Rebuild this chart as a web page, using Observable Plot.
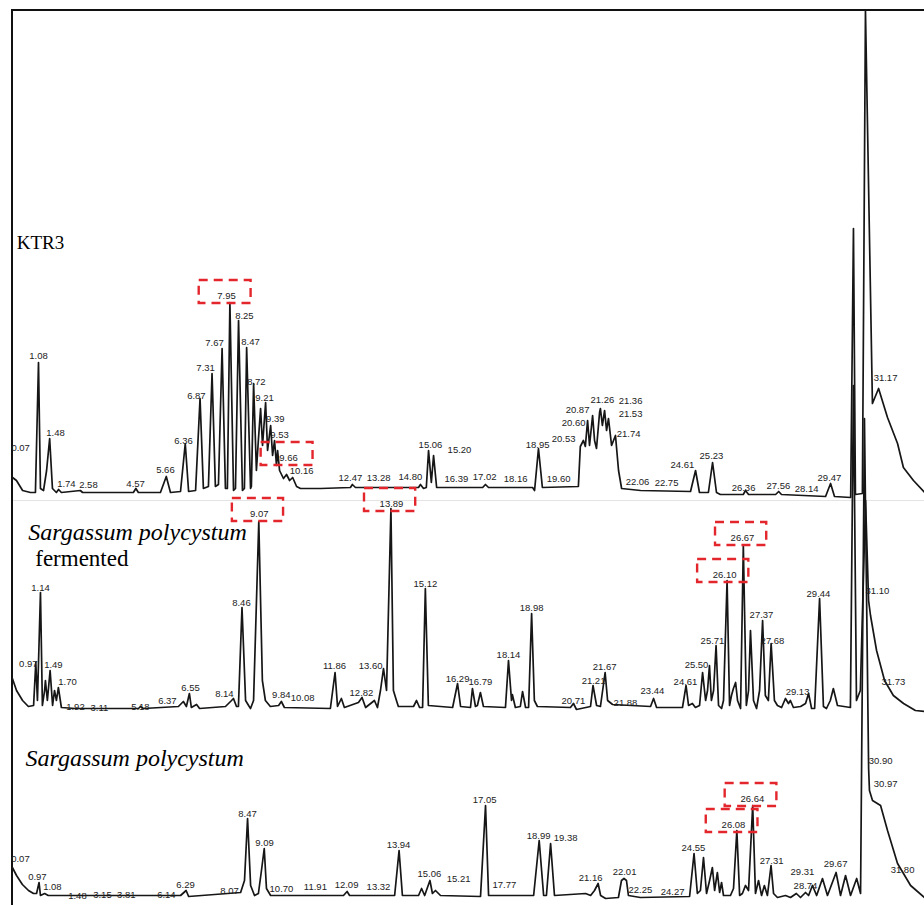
<!DOCTYPE html>
<html><head><meta charset="utf-8">
<script src="https://cdn.jsdelivr.net/npm/d3@7"></script>
<script src="https://cdn.jsdelivr.net/npm/@observablehq/plot@0.6"></script>
<style>
html,body{margin:0;padding:0;background:#fff;}
#chart{position:relative;width:924px;height:905px;overflow:hidden;background:#fff;}
#chart svg{position:absolute;left:0;top:0;background:transparent !important;overflow:visible;}
.frame{position:absolute;left:11px;top:9px;width:913px;height:896px;border-left:2px solid #111;border-top:2px solid #111;box-sizing:border-box;}
.sep{position:absolute;left:13px;top:500px;width:911px;height:0;border-top:1px solid #e4e4e4;}
</style></head>
<body><div id="chart"><div class="sep"></div><div class="frame"></div></div>
<script>
// ---- Panel names ----
const panelNames = ["KTR3", "Sargassum polycystum", "fermented", "Sargassum polycystum"];

// ---- KTR3 chromatogram: [retention time (min), signal] ----
const ktr3Trace = [[0.15,15],[0.29,12],[0.51,2],[0.79,0],[0.97,0],[1.08,130],[1.15,4],[1.26,2],[1.37,22],[1.48,54],[1.58,4],[1.72,0],[1.80,3],[1.90,0],
[2.58,2],[2.66,0],[4.48,0],[4.57,4],[4.66,0],[5.45,0],[5.66,16],[5.81,0],[6.17,1],[6.34,49],[6.46,1],[6.71,2],[6.87,94],[6.99,4],[7.17,6],[7.30,119],[7.42,6],[7.53,8],[7.66,144],[7.78,4],[7.85,4],[7.94,190],[8.07,2],[8.14,4],[8.25,172],[8.39,2],[8.46,4],[8.54,145],[8.68,4],[8.71,6],[8.79,109],[8.89,22],[8.96,52],[9.04,84],[9.11,47],[9.22,90],[9.29,42],[9.40,67],[9.47,37],[9.54,52],[9.61,27],[9.65,42],[9.72,22],[9.86,14],[9.97,18],[10.08,12],[10.19,15],[10.33,6],[10.47,4],[11.19,4],[12.26,5],[12.33,8],[12.44,5],[14.70,5],[14.77,8],[14.88,4],[14.98,5],[15.06,42],[15.16,10],[15.24,37],[15.35,5],[17.00,5],[17.10,8],[17.21,5],[18.79,5],[18.86,2],[19.00,44],[19.14,5],[20.43,6],[20.50,46],[20.61,52],[20.68,46],[20.76,72],[20.83,47],[20.94,77],[21.01,52],[21.08,44],[21.19,80],[21.22,84],[21.29,67],[21.37,82],[21.44,62],[21.51,74],[21.62,47],[21.69,52],[21.76,57],[21.87,22],[21.98,4],[22.66,2],[24.45,1],[24.63,22],[24.77,0],[25.09,0],[25.24,30],[25.38,0],[25.52,-2],[26.34,-2],[26.42,2],[26.53,-2],[27.50,-2],[27.61,1],[27.71,-2],[29.29,-4],[29.47,9],[29.61,-4],[30.19,-5],[30.29,264],[30.36,-2],[30.61,-1],[30.72,482],[30.97,89],[31.19,104],[31.51,75],[31.87,49],[32.08,25],[32.44,12],[32.84,0]];

// ---- S. polycystum fermented chromatogram ----
const fermentedTrace = [[0.12,31],[0.27,19],[0.49,9],[0.70,3],[0.89,4],[0.97,47],[1.03,9],[1.14,117],[1.21,4],[1.29,19],[1.32,29],[1.39,9],[1.49,39],[1.58,4],[1.65,19],[1.72,9],[1.79,22],[1.90,2],[2.41,1],[4.70,1],[4.77,3],[4.88,1],[6.15,3],[6.33,8],[6.44,3],[6.55,16],[6.62,2],[6.81,5],[6.92,1],[7.86,3],[8.08,9],[8.15,11],[8.26,3],[8.33,3],[8.46,102],[8.59,9],[8.70,4],[8.77,1],[8.88,9],[9.07,188],[9.20,29],[9.31,9],[9.49,3],[9.79,4],[9.89,8],[10.00,2],[11.67,1],[11.84,37],[11.93,3],[12.07,11],[12.18,2],[12.69,7],[12.82,12],[12.95,2],[13.27,9],[13.38,2],[13.49,19],[13.60,41],[13.71,19],[13.87,201],[13.96,19],[14.07,9],[14.14,3],[14.69,3],[14.80,9],[14.91,2],[15.02,2],[15.12,121],[15.23,4],[16.11,2],[16.29,26],[16.40,3],[16.76,2],[16.83,21],[16.94,3],[17.01,4],[17.12,17],[17.23,3],[18.03,2],[18.14,49],[18.25,9],[18.28,15],[18.39,2],[18.57,3],[18.65,18],[18.76,2],[18.87,2],[18.98,96],[19.08,9],[19.19,3],[20.39,2],[20.50,6],[20.61,0],[21.12,3],[21.21,24],[21.34,4],[21.48,3],[21.65,37],[21.74,9],[21.92,5],[23.30,3],[23.41,11],[23.52,2],[24.46,2],[24.59,24],[24.68,4],[24.82,6],[24.93,2],[25.08,4],[25.19,37],[25.30,9],[25.37,19],[25.44,44],[25.51,9],[25.59,19],[25.68,64],[25.77,4],[25.88,1],[25.95,9],[26.08,129],[26.17,4],[26.24,14],[26.31,21],[26.39,27],[26.46,9],[26.57,1],[26.67,164],[26.78,4],[26.86,19],[26.93,79],[27.04,9],[27.15,1],[27.26,19],[27.37,89],[27.47,14],[27.58,9],[27.68,66],[27.80,9],[27.91,4],[28.06,2],[28.20,11],[28.31,6],[28.38,9],[28.49,2],[28.75,3],[28.93,6],[29.04,16],[29.15,1],[29.26,1],[29.44,111],[29.58,3],[29.69,1],[29.83,9],[29.94,21],[30.09,4],[30.56,2],[30.67,324],[30.78,9],[30.92,19],[31.11,209],[31.22,109],[31.29,94],[31.51,59],[31.80,29],[32.12,14],[32.49,6],[32.92,-1],[33.25,-2]];

// ---- S. polycystum chromatogram ----
const rawTrace = [[0.01,30],[0.16,22],[0.37,13],[0.59,7],[0.77,4],[0.88,4],[0.97,15],[1.02,2],[1.17,4],[1.30,2],[6.06,2],[6.26,7],[6.35,1],[8.22,5],[8.36,17],[8.47,79],[8.58,12],[8.72,2],[8.86,4],[8.97,27],[9.07,49],[9.15,9],[9.30,2],[11.92,2],[12.05,6],[12.14,2],[13.76,2],[13.92,47],[14.04,2],[14.62,2],[14.73,9],[14.84,2],[15.03,17],[15.12,4],[15.23,7],[15.41,2],[16.85,1],[17.03,92],[17.14,2],[18.76,2],[18.96,57],[19.12,2],[19.22,2],[19.37,54],[19.51,2],[20.63,4],[20.81,2],[20.95,7],[21.08,14],[21.17,2],[21.35,-1],[21.81,0],[21.92,17],[22.01,19],[22.10,17],[22.17,2],[22.60,0],[24.37,1],[24.53,44],[24.65,4],[24.76,7],[24.87,40],[24.98,4],[25.09,17],[25.19,30],[25.27,7],[25.37,25],[25.45,5],[25.52,15],[25.59,2],[25.84,2],[25.95,9],[26.07,67],[26.17,2],[26.27,4],[26.38,12],[26.49,7],[26.64,92],[26.74,4],[26.85,17],[26.96,2],[27.06,12],[27.17,2],[27.30,32],[27.39,4],[27.53,0],[27.82,2],[28.00,0],[28.21,4],[28.36,0],[28.54,5],[28.65,2],[28.79,12],[28.94,2],[29.15,19],[29.33,2],[29.64,25],[29.80,2],[29.98,22],[30.16,2],[30.38,19],[30.52,4],[30.66,479],[30.81,129],[30.84,107],[30.95,97],[31.24,92],[31.49,67],[31.85,34],[32.32,12],[32.82,0]];

// ---- Peak labels: [text, time anchor, signal anchor] ----
const ktr3Labels = [["0.07",0.44,45],["1.08",1.08,137],["1.48",1.69,60],["1.74",2.08,9],["2.58",2.87,8],["4.57",4.56,9],["5.66",5.63,23],["6.36",6.28,52],["6.87",6.74,97],["7.31",7.07,125],["7.67",7.39,150],["7.95",7.82,197],["8.25",8.46,177],["8.47",8.68,151],["8.72",8.89,111],["9.21",9.18,95],["9.39",9.57,74],["9.53",9.72,58],["9.66",10.04,35],["10.16",10.51,22],["12.47",12.26,15],["13.28",13.27,15],["14.80",14.41,16],["15.06",15.13,48],["15.20",16.17,43],["16.39",16.06,14],["17.02",17.07,16],["18.16",18.18,14],["18.95",18.97,48],["19.60",19.72,14],["20.53",19.90,54],["20.60",20.26,70],["20.87",20.40,83],["21.26",21.29,93],["21.36",22.30,92],["21.53",22.30,79],["21.74",22.23,59],["22.06",22.55,11],["22.75",23.59,10],["24.61",24.16,28],["25.23",25.20,37],["26.36",26.35,5],["27.56",27.60,7],["28.14",28.61,4],["29.47",29.43,15],["31.17",31.44,115]];
const fermentedLabels = [["0.97",0.70,46],["1.14",1.14,122],["1.49",1.61,45],["1.70",2.12,28],["1.92",2.41,3],["3.11",3.28,2],["5.18",4.77,3],["6.37",5.75,9],["6.55",6.59,22],["8.14",7.82,16],["8.46",8.44,107],["9.07",9.09,196],["9.84",9.89,15],["10.08",10.66,12],["11.86",11.82,44],["12.82",12.80,17],["13.60",13.13,44],["13.89",13.89,206],["15.12",15.12,126],["16.29",16.29,31],["16.79",17.12,28],["18.14",18.14,55],["18.98",18.98,102],["20.71",20.50,9],["21.21",21.23,29],["21.67",21.63,43],["21.88",22.39,7],["23.44",23.37,19],["24.61",24.57,28],["25.50",24.97,45],["25.71",25.55,69],["26.10",25.99,135],["26.67",26.64,172],["27.37",27.33,95],["27.68",27.73,69],["29.13",28.64,18],["29.44",29.40,116],["31.10",31.54,119],["31.73",32.12,28]];
const rawLabels = [["0.07",0.30,39],["0.97",0.91,21],["1.08",1.45,11],["1.48",2.35,2],["3.15",3.25,3],["3.81",4.11,3],["6.14",5.55,3],["6.29",6.24,13],["8.07",7.82,7],["8.47",8.47,84],["9.09",9.08,55],["10.70",9.69,9],["11.91",10.91,11],["12.09",12.03,13],["13.32",13.18,11],["13.94",13.90,53],["15.06",15.01,24],["15.21",16.06,19],["17.05",17.00,98],["17.77",17.71,13],["18.99",18.94,62],["19.38",19.91,60],["21.16",20.81,20],["22.01",22.03,26],["22.25",22.60,8],["24.27",23.76,6],["24.55",24.51,50],["26.08",25.95,73],["26.64",26.63,99],["27.31",27.32,37],["28.74",28.54,12],["29.31",28.43,26],["29.67",29.62,34],["30.90",31.24,137],["30.97",31.42,114],["31.80",32.03,28]];

// ---- Highlighted (boxed) peaks ----
const ktr3Highlighted = ["7.95", "9.66"];
const fermentedHighlighted = ["9.07", "13.89", "26.10", "26.67"];
const rawHighlighted = ["26.08", "26.64"];

const chart = document.getElementById("chart");
const serif = "'Liberation Serif', 'Times New Roman', Times, serif";
const sans = "'Liberation Sans', Arial, Helvetica, sans-serif";

function panel({trace, labels, highlighted, base, xDomain, titles}) {
  const boxed = labels.filter(d => highlighted.includes(d[0]));
  const marks = [
    Plot.line(trace, {x: d => d[0], y: d => d[1], stroke: "#161616", strokeWidth: 1.7, strokeLinejoin: "round"}),
    Plot.text(labels, {x: d => d[1], y: d => d[2], text: d => d[0], fontSize: 9.5, fontFamily: sans, fill: "#222"}),
    Plot.rect(boxed, {x1: d => d[1] - 0.98, x2: d => d[1] + 0.88, y1: d => d[2] - 8, y2: d => d[2] + 15,
      fill: "none", stroke: "#e3262c", strokeWidth: 2.4, strokeDasharray: "9,6"})
  ];
  for (const tt of titles) {
    marks.push(Plot.text([tt.text], {x: () => tt.t, y: () => tt.h, text: d => d, textAnchor: "start",
      fontFamily: serif, fontSize: tt.size, fontStyle: tt.italic ? "italic" : "normal", fill: "#000"}));
  }
  const svg = Plot.plot({
    width: 924, height: 905, margin: 0,
    x: {domain: xDomain, axis: null},
    y: {domain: [base - 905, base], axis: null},
    marks
  });
  svg.style.background = "transparent";
  return svg;
}

chart.appendChild(panel({trace: ktr3Trace, labels: ktr3Labels, highlighted: ktr3Highlighted,
  base: 492, xDomain: [-0.282, 32.836],
  titles: [{text: panelNames[0], t: 0.30, h: 250, size: 19, italic: false}]}));
chart.appendChild(panel({trace: fermentedTrace, labels: fermentedLabels, highlighted: fermentedHighlighted,
  base: 709, xDomain: [-0.312, 33.251],
  titles: [{text: panelNames[1], t: 0.70, h: 177, size: 24, italic: true},
           {text: panelNames[2], t: 0.95, h: 151, size: 23, italic: false}]}));
chart.appendChild(panel({trace: rawTrace, labels: rawLabels, highlighted: rawHighlighted,
  base: 897, xDomain: [-0.417, 32.82],
  titles: [{text: panelNames[3], t: 0.48, h: 139, size: 24, italic: true}]}));
</script>
</body></html>
